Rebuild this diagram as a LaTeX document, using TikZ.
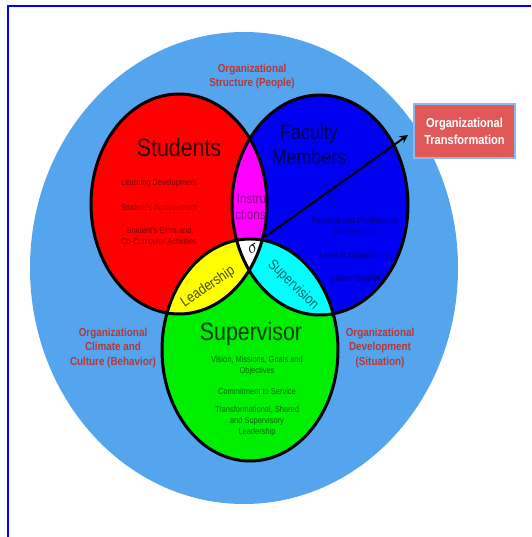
\documentclass[tikz,border=0pt]{standalone}
\usepackage{fontspec}
\setmainfont{Liberation Sans}[FakeStretch=0.85]
\definecolor{outerblue}{RGB}{85,165,238}
\definecolor{orgred}{RGB}{176,58,58}
\definecolor{boxred}{RGB}{224,88,88}
\definecolor{boxedge}{RGB}{140,185,232}
\definecolor{vred}{RGB}{255,0,0}
\definecolor{vblue}{RGB}{0,0,240}
\definecolor{vgreen}{RGB}{0,238,0}
\definecolor{vmagenta}{RGB}{255,0,255}
\definecolor{vyellow}{RGB}{255,255,0}
\definecolor{vcyan}{RGB}{0,255,255}
% the three circles of the diagram
\newcommand{\studpath}{(3.58,6.66) ellipse (1.76cm and 2.2cm)}
\newcommand{\facpath}{(6.40,6.64) ellipse (1.76cm and 2.2cm)}
\newcommand{\suppath}{(5.00,3.74) ellipse (1.76cm and 2.22cm)}
\begin{document}
\begin{tikzpicture}[
        orglabel/.style={text=orgred, font=\fontsize{6.6}{8.3}\selectfont\bfseries, align=center},
        item/.style={font=\fontsize{5}{6.2}\selectfont, align=center},
        head/.style={font=\fontsize{14.3}{16}\selectfont},
        lens/.style={font=\fontsize{8.3}{9}\selectfont},
        ring/.style={draw=black, line width=1.7pt}
    ]
    \useasboundingbox (0,0) rectangle (10.62,10.74);
    \fill[white] (0,0) rectangle (10.62,10.74);
    \draw[blue, line width=1.1pt] (0.16,0) -- (0.16,10.62) -- (10.62,10.62);
    \fill[outerblue] (4.88,5.38) ellipse (4.28cm and 4.72cm);
    % circles and their overlaps
    \fill[vred] \studpath;
    \fill[vblue] \facpath;
    \fill[vgreen] \suppath;
    \begin{scope}
        \clip \studpath;
        \fill[vmagenta] \facpath;
        \fill[vyellow] \suppath;
    \end{scope}
    \begin{scope}
        \clip \facpath;
        \fill[vcyan] \suppath;
    \end{scope}
    \begin{scope}
        \clip \studpath;
        \clip \facpath;
        \fill[white] \suppath;
        \node[lens, text=black!45!vmagenta, font=\fontsize{7.8}{9}\selectfont] (instr) at (5.03,6.76) {Instru};
        \node[lens, text=black!45!vmagenta, font=\fontsize{7.8}{9}\selectfont] (ctions) at (5.01,6.44) {ctions};
    \end{scope}
    \draw[ring] \studpath;
    \draw[ring] \facpath;
    \draw[ring] \suppath;
    % arrow to the result
    \coordinate (core) at (5.30,6.00);
    \coordinate (tip) at (8.16,8.04);
    \draw[->, >=stealth, line width=1.1pt] (core) -- (tip);
    \node[rotate=30, font=\fontsize{10}{10}\selectfont] (sigma) at (5.06,5.77) {$\sigma$};
    % headings
    \node[head, text=black!80!vred] (stud) at (3.58,7.78) {Students};
    \node[head, text=black!65!vblue, align=center, font=\fontsize{12}{14}\selectfont] (fac) at (6.18,7.85) {Faculty\\Members};
    \node[head, text=black!75!vgreen] (sup) at (5.02,4.06) {Supervisor};
    \node[lens, rotate=34, text=black!70!vyellow] (lead) at (4.16,5.00) {Leadership};
    \node[lens, rotate=-44, text=black!60!vcyan] (superv) at (5.86,5.04) {Supervision};
    % items
    \node[item, text=black!50!vred] (s1) at (3.18,7.08) {Learning Development};
    \node[item, text=black!50!vred] (s2) at (3.18,6.60) {Student's Achievement};
    \node[item, text=black!50!vred] (s3) at (3.18,6.03) {Student's Extra and\\Co-Curricular Activities};
    \node[item, text=black!50!vblue] (f1) at (7.10,6.21) {Personal and Professional\\Development};
    \node[item, text=black!50!vblue] (f2) at (7.10,5.62) {Level of Competency};
    \node[item, text=black!50!vblue] (f3) at (7.10,5.18) {Career Growth};
    \node[item, text=black!55!vgreen] (v1) at (5.14,3.42) {Vision, Missions, Goals and\\Objectives};
    \node[item, text=black!55!vgreen] (v2) at (5.14,2.92) {Commitment to Service};
    \node[item, text=black!55!vgreen] (v3) at (5.14,2.32) {Transformational, Shared\\and Supervisory\\Leadership};
    % outer labels
    \node[orglabel] (people) at (5.04,9.21) {Organizational\\Structure (People)};
    \node[orglabel] (behav) at (2.26,3.78) {Organizational\\Climate and\\Culture (Behavior)};
    \node[orglabel] (situ) at (7.60,3.78) {Organizational\\Development\\(Situation)};
    \node[fill=boxred, draw=boxedge, line width=0.8pt, text=white, align=center,
        font=\fontsize{7.4}{9.6}\selectfont\bfseries,
        minimum width=2.02cm, minimum height=1.08cm] (trans) at (9.29,8.12) {Organizational\\Transformation};
\end{tikzpicture}
\end{document}
